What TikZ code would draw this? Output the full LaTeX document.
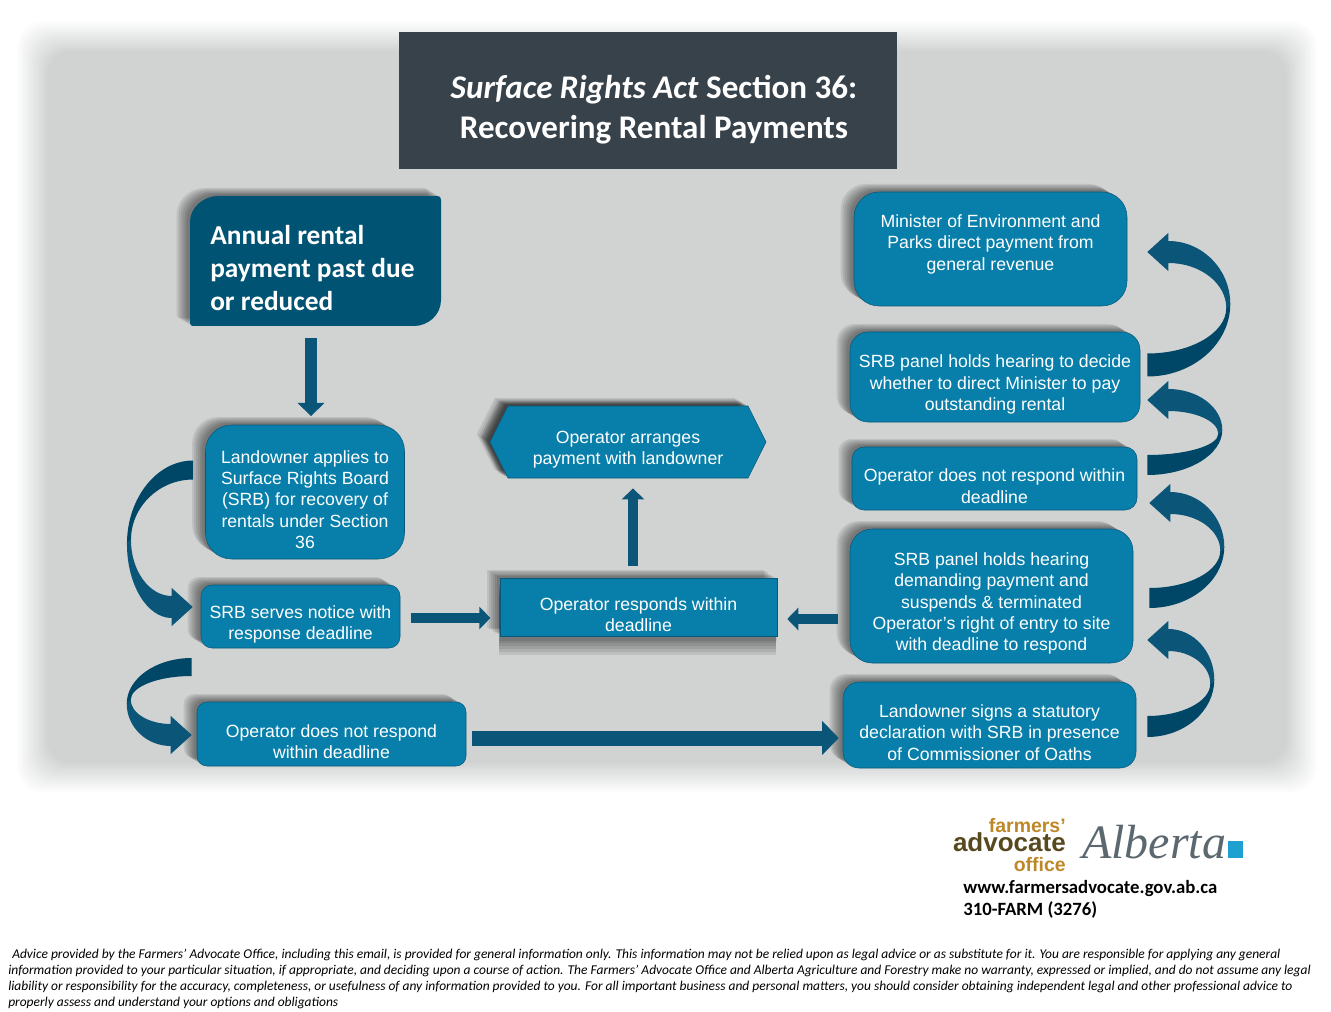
\documentclass[tikz,border=0pt]{standalone}
\usepackage{fontspec}
\setmainfont{Liberation Sans}
\newfontfamily\calibri{Carlito}
\newfontfamily\alberta{Liberation Serif}
\usetikzlibrary{positioning,arrows.meta,calc,shadows,shapes.symbols}
\definecolor{faBack}{RGB}{209,211,211}
\definecolor{faBox}{RGB}{8,127,170}
\definecolor{faEdge}{RGB}{10,88,120}
\definecolor{faArrow}{RGB}{10,85,120}
\definecolor{faDark}{RGB}{0,70,102}
\definecolor{faAnnual}{RGB}{0,83,115}
\definecolor{faTitle}{RGB}{55,66,74}
\definecolor{faGold}{RGB}{190,135,40}
\definecolor{faBrown}{RGB}{88,72,30}
\definecolor{faScript}{RGB}{92,104,112}
\definecolor{faSquare}{RGB}{30,160,208}
\newcommand{\lift}{\rule{0pt}{21pt}}
\setlength{\lineskiplimit}{-100pt}
\tikzset{
  softlayer/.style 2 args={general shadow={shadow xshift=#1*1pt,shadow yshift=#2*1pt,fill=black,opacity=.085}},
  softshadow/.style 2 args={
    softlayer={#1}{#2}, softlayer={#1*.85}{#2*.85}, softlayer={#1*.7}{#2*.7},
    softlayer={#1*.55}{#2*.55}, softlayer={#1*.4}{#2*.4}, softlayer={#1*.25}{#2*.25}},
  flowbox/.style={draw=faEdge, fill=faBox, text=white, rounded corners=#1*.75pt, align=center, inner sep=0pt,
    font=\fontsize{13.25}{16}\selectfont, softshadow={-10}{6}},
  blockarrow/.style={draw=faArrow, line width=#1*.75pt, -{Triangle[length=0pt 1.1,width=0pt 2.2]}},
  finetext/.style={anchor=west, inner sep=0pt, font=\calibri\itshape\fontsize{10.1}{12}\selectfont}
}
% curved ribbon: start, tip, bulge, side (1 right, -1 left), half width at start
\newcommand{\ribbon}[5]{
  \coordinate (hT) at ($(#2)+(#4*21,-19)$);
  \coordinate (hB) at ($(#2)+(#4*21,19)$);
  \coordinate (aU) at ($(#2)+(#4*21,-#4*11)$);
  \coordinate (aL) at ($(#2)+(#4*21,#4*11)$);
  \coordinate (rO) at ($($(#2)!.46!(#1)$)+(#4*#3,0)$);
  \coordinate (rI) at ($(rO)+(-#4*4,#4*4)$);
  \coordinate (sU) at ($(#1)+(0,-#4*#5)$);
  \coordinate (sL) at ($(#1)+(0,#4*#5)$);
  \fill[faArrow] (#2) -- (hT) -- (aU)
    .. controls ($(aU)!.55!(rO |- aU)$) and ($(rO)!.55!(rO |- aU)$) .. (rO) -- (rI)
    .. controls ($(rI)!.55!(rI |- aL)$) and ($(aL)!.55!(rI |- aL)$) .. (aL) -- (hB) -- cycle;
  \fill[faDark] (rO)
    .. controls ($(rO)!.55!(rO |- sL)$) and ($(sL)!.55!(rO |- sL)$) .. (sL) -- (sU)
    .. controls ($(sU)!.55!(rI |- sU)$) and ($(rI)!.55!(rI |- sU)$) .. (rI) -- cycle;
}
\begin{document}
\begin{tikzpicture}[x=.75pt,y=-.75pt]
  \useasboundingbox (0,0) rectangle (1331,1012);

  % Grey backdrop with soft edge
  \foreach \d [evaluate=\d as \op using 1/(12-\d)] in {0,...,11}
    \fill[faBack, opacity=\op, rounded corners=18pt] (18+2.6*\d,22+2.6*\d) rectangle (1316-2.6*\d,792-2.6*\d);

  % Title
  \node[fill=faTitle, text=white, minimum width=373.5pt, minimum height=102.75pt, align=center, inner sep=0pt,
    font=\calibri\bfseries\fontsize{24.8}{30}\selectfont] (title) at (648,100.5)
    {\hspace*{9pt}\rule{0pt}{31pt}\textit{Surface Rights Act} Section 36:\\\hspace*{9pt}Recovering Rental Payments};

  % Start box
  \fill[faAnnual, softshadow={-10}{6}] (190,323) -- (190,222) .. controls (190,207) and (204,196) .. (218,196)
    -- (437,196) .. controls (440,196) and (441,197) .. (441,200) -- (441,300)
    .. controls (441,315) and (428,326) .. (414,326) -- (193,326) .. controls (191,326) and (190,325) .. (190,323) -- cycle;
  \node[anchor=west, text=white, align=left, inner sep=0pt,
    font=\calibri\bfseries\fontsize{20.5}{24.4}\selectfont] (annual) at (210,268)
    {Annual rental\\payment past due\\or reduced};
  \coordinate (annualS) at (311,326);

  % Left column
  \node[flowbox=26, minimum width=149.25pt, minimum height=100.5pt] (apply) at (305,492)
    {\lift Landowner applies to\\Surface Rights Board\\(SRB) for recovery of\\rentals under Section\\36};
  \node[flowbox=11, minimum width=149.25pt, minimum height=47.25pt] (notice) at (300.5,616.5)
    {\lift SRB serves notice with\\response deadline};
  \node[flowbox=10, minimum width=201.75pt, minimum height=48pt] (nolow) at (331.5,734)
    {\lift Operator does not respond\\within deadline};

  % Middle column
  \node[flowbox=0, signal, signal to=west and east, signal pointer angle=127, softshadow={-7}{4},
    minimum width=207pt, minimum height=54pt] (arrange) at (628,442)
    {\lift Operator arranges\\payment with landowner};
  \node[flowbox=0, softshadow={-1}{-14}, minimum width=207.75pt, minimum height=43.5pt] (respond) at (638.5,607)
    {\lift Operator responds within\\deadline};

  % Right column
  \node[flowbox=25, minimum width=204.75pt, minimum height=85.5pt] (minister) at (990.5,249)
    {Minister of Environment and\\Parks direct payment from\\general revenue\rule[-10pt]{0pt}{10pt}};
  \node[flowbox=18, minimum width=217.5pt, minimum height=67.5pt] (panel) at (995,377)
    {\lift SRB panel holds hearing to decide\\whether to direct Minister to pay\\outstanding rental};
  \node[flowbox=12, minimum width=213.75pt, minimum height=47.25pt] (nohigh) at (994.5,478.5)
    {\lift Operator does not respond within\\deadline};
  \node[flowbox=22, minimum width=212.25pt, minimum height=100.5pt] (hearing) at (991.5,596)
    {\lift SRB panel holds hearing\\demanding payment and\\suspends \& terminated\\Operator’s right of entry to site\\with deadline to respond};
  \node[flowbox=16, minimum width=219.75pt, minimum height=64.5pt] (sign) at (989.5,725)
    {\lift Landowner signs a statutory\\declaration with SRB in presence\\of Commissioner of Oaths};

  % Straight arrows
  \draw[blockarrow=12, shorten <=9pt, shorten >=6.5pt] (annualS) -- (annualS |- apply.north);
  \draw[blockarrow=10, shorten <=9pt, shorten >=8pt] ($(respond.north)+(-5.5,0)$) -- ($(respond.north)+(-5.5,-100)$);
  \draw[blockarrow=10, shorten <=8pt, shorten >=7pt] ($(notice.east)+(0,1.5)$) -- ($(notice.east -| respond.west)+(0,1.5)$);
  \draw[blockarrow=10, shorten <=9pt, shorten >=7.5pt] ($(hearing.west)+(0,23)$) -- ($(hearing.west -| respond.east)+(0,23)$);
  \draw[blockarrow=15, shorten <=4pt, shorten >=3pt] ($(nolow.east)+(0,4)$) -- ($(nolow.east -| sign.west)+(0,4)$);

  % Curved arrows
  \coordinate (r1s) at ($(panel.east)+(7,-12)$);
  \coordinate (r1t) at ($(minister.east)+(20,3)$);
  \coordinate (r2s) at ($(nohigh.east)+(10,-13.5)$);
  \coordinate (r2t) at ($(panel.east)+(7,23)$);
  \coordinate (r3s) at ($(hearing.east)+(16,2)$);
  \coordinate (r3t) at ($(nohigh.east)+(12,24.5)$);
  \coordinate (r4s) at ($(sign.east)+(11,1.5)$);
  \coordinate (r4t) at ($(hearing.east)+(14,44)$);
  \coordinate (l1s) at ($(apply.west)+(-12,-22)$);
  \coordinate (l1t) at ($(notice.west)+(-8,-9.5)$);
  \coordinate (l2s) at ($(notice.west)+(-9,50.5)$);
  \coordinate (l2t) at ($(nolow.west)+(-5,1)$);
  \ribbon{r1s}{r1t}{83}{1}{11.5}
  \ribbon{r2s}{r2t}{75}{1}{10}
  \ribbon{r3s}{r3t}{75}{1}{10}
  \ribbon{r4s}{r4t}{67}{1}{10.5}
  \ribbon{l1s}{l1t}{66}{-1}{9.5}
  \ribbon{l2s}{l2t}{65}{-1}{9}

  % Logo
  \node[anchor=east, align=right, inner sep=0pt, font=\bfseries\fontsize{14.6}{14.6}\selectfont] (office) at (1066,845)
    {\textcolor{faGold}{farmers’}\\
     \textcolor{faBrown}{\fontsize{19.5}{14.6}\selectfont advocate}\\
     \textcolor{faGold}{office}};
  \node[anchor=west, inner sep=0pt, text=faScript, font=\alberta\itshape\fontsize{36}{36}\selectfont] (albertaname) at (1082,842) {Alberta};
  \node[fill=faSquare, minimum width=11.25pt, minimum height=12.75pt, inner sep=0pt] (square) at (1235.5,849.5) {};

  % Contact
  \node[anchor=west, inner sep=0pt, font=\calibri\bfseries\fontsize{14.05}{16}\selectfont] (web) at (963,888.5) {www.farmersadvocate.gov.ab.ca};
  \node[anchor=west, inner sep=0pt, font=\calibri\bfseries\fontsize{14.05}{16}\selectfont] (phone) at (963,910) {310-FARM (3276)};

  % Disclaimer
  \node[finetext] (fine1) at (12,955) {Advice provided by the Farmers’ Advocate Office, including this email, is provided for general information only. This information may not be relied upon as legal advice or as substitute for it. You are responsible for applying any general};
  \node[finetext] (fine2) at (8,971) {information provided to your particular situation, if appropriate, and deciding upon a course of action. The Farmers’ Advocate Office and Alberta Agriculture and Forestry make no warranty, expressed or implied, and do not assume any legal};
  \node[finetext] (fine3) at (8,987) {liability or responsibility for the accuracy, completeness, or usefulness of any information provided to you. For all important business and personal matters, you should consider obtaining independent legal and other professional advice to};
  \node[finetext] (fine4) at (8,1003) {properly assess and understand your options and obligations};
\end{tikzpicture}
\end{document}
